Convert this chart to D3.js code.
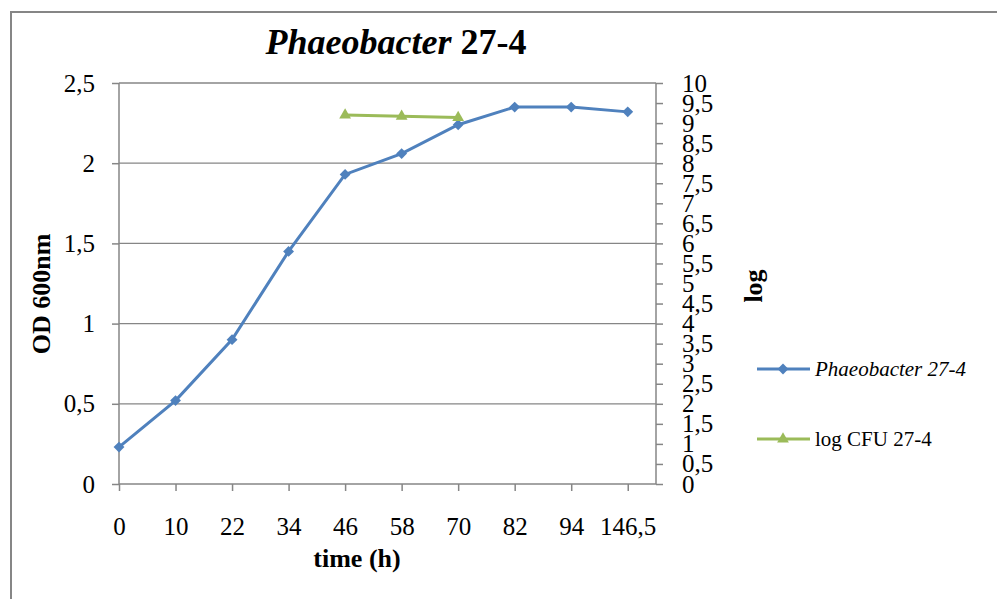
<!DOCTYPE html>
<html>
<head>
<meta charset="utf-8">
<script src="https://cdn.jsdelivr.net/npm/d3@7"></script>
<style>
  body { margin: 0; background: #fff; }
  text { font-family: "Liberation Serif", "Times New Roman", serif; fill: #000; }
</style>
</head>
<body>
<div id="chart"></div>
<script>
var categories = ["0", "10", "22", "34", "46", "58", "70", "82", "94", "146,5"];
var odValues = [0.23, 0.52, 0.90, 1.45, 1.93, 2.06, 2.24, 2.35, 2.35, 2.32];
var cfuCategories = ["46", "58", "70"];
var cfuValues = [9.2, 9.17, 9.14];
var leftTicks = [0, 0.5, 1, 1.5, 2, 2.5];
var rightTicks = d3.range(0, 10.01, 0.5);

var W = 997, H = 599;
var margin = {top: 83, left: 119, right: 341, bottom: 115};
var width = W - margin.left - margin.right,
    height = H - margin.top - margin.bottom;

var blue = "#4f81bd", green = "#9bbb59", grey = "#868686";
var fmt = function(v) { return String(v).replace(".", ","); };

var svg = d3.select("#chart").append("svg")
    .attr("width", W)
    .attr("height", H);

// outer frame (runs off the right and bottom edges)
svg.append("path")
    .attr("d", "M11," + (H + 5) + "V12H" + (W + 5))
    .attr("fill", "none")
    .attr("stroke", grey)
    .attr("stroke-width", 2);

var g = svg.append("g")
    .attr("transform", "translate(" + margin.left + "," + margin.top + ")");

var x = d3.scaleLinear().domain([0, 9.5]).range([0, width]);
var y = d3.scaleLinear().domain([0, 2.5]).range([height, 0]);
var y2 = d3.scaleLinear().domain([0, 10]).range([height, 0]);
var xi = function(c) { return x(categories.indexOf(c)); };

// gridlines
g.append("g")
    .selectAll("line")
    .data(leftTicks.slice(1))
    .enter().append("line")
    .attr("x1", 0).attr("x2", width)
    .attr("y1", function(d) { return y(d); })
    .attr("y2", function(d) { return y(d); })
    .attr("stroke", grey)
    .attr("stroke-width", 1.3);

// left axis
var left = g.append("g")
    .call(d3.axisLeft(y).tickValues(leftTicks).tickSize(7).tickPadding(17).tickFormat(fmt));

// right axis
var right = g.append("g")
    .attr("transform", "translate(" + width + ",0)")
    .call(d3.axisRight(y2).tickValues(rightTicks).tickSize(7).tickPadding(19).tickFormat(fmt));

// bottom axis
var bottom = g.append("g")
    .attr("transform", "translate(0," + height + ")")
    .call(d3.axisBottom(x).tickValues(d3.range(categories.length)).tickSize(7).tickPadding(26)
        .tickFormat(function(i) { return categories[i]; }));

[left, right, bottom].forEach(function(a) {
    a.select(".domain").attr("stroke", grey).attr("stroke-width", 1.5);
    a.selectAll(".tick line").attr("stroke", grey).attr("stroke-width", 1.5);
    a.selectAll("text").attr("font-size", 25).attr("font-family", "Liberation Serif").attr("fill", "#000");
});
left.select(".domain").attr("d", "M0," + height + "V0");
right.select(".domain").attr("d", "M0," + height + "V0");
bottom.select(".domain").attr("d", "M0,0H" + width);

// OD line
var line = d3.line()
    .x(function(d, i) { return x(i); })
    .y(function(d) { return y(d); });

g.append("path")
    .datum(odValues)
    .attr("fill", "none")
    .attr("stroke", blue)
    .attr("stroke-width", 3)
    .attr("d", line);

var diamond = d3.symbol().type(d3.symbolDiamond2).size(75);
g.append("g")
    .selectAll("path")
    .data(odValues)
    .enter().append("path")
    .attr("transform", function(d, i) { return "translate(" + x(i) + "," + y(d) + ")"; })
    .attr("d", diamond)
    .attr("fill", blue);

// log CFU line
var line2 = d3.line()
    .x(function(d, i) { return xi(cfuCategories[i]); })
    .y(function(d) { return y2(d); });

g.append("path")
    .datum(cfuValues)
    .attr("fill", "none")
    .attr("stroke", green)
    .attr("stroke-width", 3)
    .attr("d", line2);

var tri = d3.symbol().type(d3.symbolTriangle).size(60);
g.append("g")
    .selectAll("path")
    .data(cfuValues)
    .enter().append("path")
    .attr("transform", function(d, i) { return "translate(" + xi(cfuCategories[i]) + "," + y2(d) + ")"; })
    .attr("d", tri)
    .attr("fill", green);

// title
var title = svg.append("text")
    .attr("x", 396).attr("y", 54)
    .attr("text-anchor", "middle")
    .attr("font-size", 36)
    .attr("font-weight", "bold");
title.append("tspan").attr("font-style", "italic").text("Phaeobacter");
title.append("tspan").text(" 27-4");

// axis titles
svg.append("text")
    .attr("transform", "translate(50,294) rotate(-90)")
    .attr("text-anchor", "middle")
    .attr("font-size", 26)
    .attr("font-weight", "bold")
    .text("OD 600nm");

svg.append("text")
    .attr("transform", "translate(762,286) rotate(-90)")
    .attr("text-anchor", "middle")
    .attr("font-size", 26)
    .attr("font-weight", "bold")
    .text("log");

svg.append("text")
    .attr("x", 357).attr("y", 567)
    .attr("text-anchor", "middle")
    .attr("font-size", 26)
    .attr("font-weight", "bold")
    .text("time (h)");

// legend
var legend = [
    {label: "Phaeobacter 27-4", color: blue, symbol: diamond, italic: true, y: 369},
    {label: "log CFU 27-4", color: green, symbol: tri, italic: false, y: 439}
];
var lg = svg.append("g").selectAll("g")
    .data(legend)
    .enter().append("g")
    .attr("transform", function(d) { return "translate(757," + d.y + ")"; });
lg.append("line")
    .attr("x1", 0).attr("x2", 53)
    .attr("stroke", function(d) { return d.color; })
    .attr("stroke-width", 3);
lg.append("path")
    .attr("transform", "translate(26,0)")
    .attr("d", function(d) { return d.symbol(); })
    .attr("fill", function(d) { return d.color; });
lg.append("text")
    .attr("x", 58).attr("dy", "0.35em")
    .attr("font-size", 21)
    .attr("font-style", function(d) { return d.italic ? "italic" : "normal"; })
    .text(function(d) { return d.label; });
</script>
</body>
</html>
